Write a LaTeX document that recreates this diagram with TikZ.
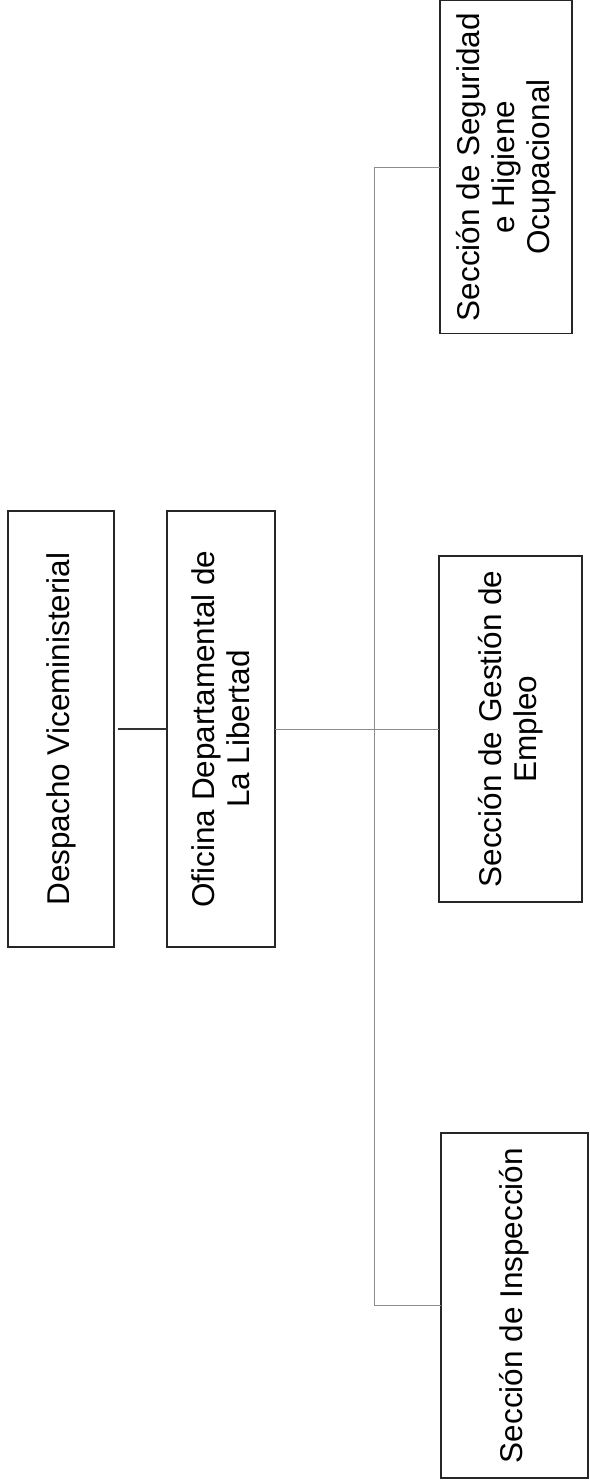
\documentclass[tikz,border=0pt]{standalone}
\usepackage{fontspec}
\setmainfont{Liberation Sans}
\begin{document}
\begin{tikzpicture}[x=1pt,y=-1pt,
  orgbox/.style={draw=black!85, line width=1.3pt, rectangle, rotate=90,
    inner sep=0pt, outer sep=0pt, align=center,
    font=\fontsize{31.5}{35}\selectfont},
  strong/.style={draw=black!80, line width=1.1pt},
  light/.style={draw=black!45, line width=1pt}]
\useasboundingbox (0,0) rectangle (589,1483);
\fill[white] (0,0) rectangle (589,1483);
% boxes (rotated: minimum width = vertical extent, minimum height = horizontal extent)
\node[orgbox, minimum width=436, minimum height=106] (d) at (61,729) {Despacho Viceministerial};
\node[orgbox, minimum width=436, minimum height=108] (o) at (221,729) {Oficina Departamental de\\La Libertad};
\node[orgbox, minimum width=346, minimum height=143] (e) at (510.5,729) {Sección de Gestión de\\Empleo};
\node[orgbox, minimum width=333, minimum height=132] (s) at (506,167) {Sección de Seguridad\\e Higiene\\Ocupacional};
\node[orgbox, minimum width=345, minimum height=147] (i) at (514.5,1305.5) {Sección de Inspección};
% trunk coordinates
\coordinate (tt) at (374,167);
\coordinate (tb) at (374,1305.5);
% connectors
\draw[strong, shorten <=4pt] (d) -- (o);
\draw[light] (o) -- (e);
\draw[light] (tt) -- (tb);
\draw[light] (tt) -- (s);
\draw[light] (tb) -- (i);
\end{tikzpicture}
\end{document}
